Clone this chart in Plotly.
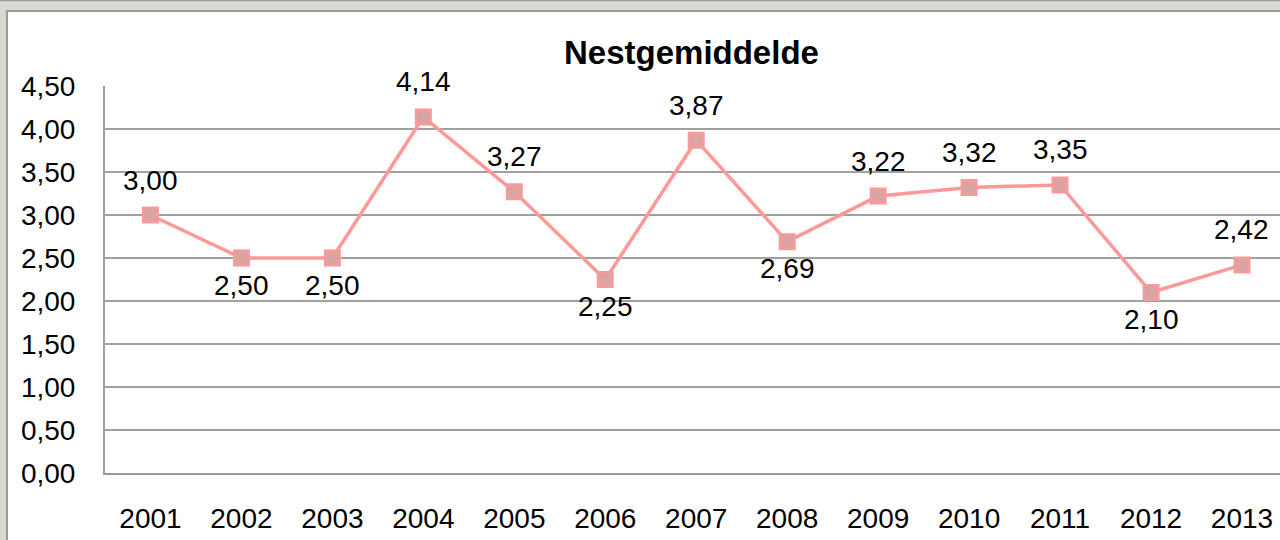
import plotly.graph_objects as go

years = ["2001", "2002", "2003", "2004", "2005", "2006", "2007",
         "2008", "2009", "2010", "2011", "2012", "2013"]
values = [3.00, 2.50, 2.50, 4.14, 3.27, 2.25, 3.87, 2.69, 3.22, 3.32, 3.35, 2.10, 2.42]
label_above = [True, False, False, True, True, False, True, False, True, True, True, False, True]
y_ticks = [0, 0.5, 1.0, 1.5, 2.0, 2.5, 3.0, 3.5, 4.0, 4.5]
title_text = "Nestgemiddelde"

def fmt(v):
    return f"{v:.2f}".replace(".", ",")

FONT = "Liberation Sans, Arial, sans-serif"
FS = 28
W, H = 1280, 540
L, R, T, B = 105, 0, 86, 67
pw, ph = W - L - R, H - T - B

def px(x):
    return (x - L) / pw

def py(y):
    return (H - B - y) / ph

fig = go.Figure()
fig.add_trace(go.Scatter(
    x=list(range(len(years))), y=values, mode="lines+markers",
    line=dict(color="#FF9999", width=3.5),
    marker=dict(symbol="square", size=15, color="#DCA3A3",
                line=dict(color="#FF9999", width=2)),
    showlegend=False, hoverinfo="skip",
))

annotations = []
for i, (v, up) in enumerate(zip(values, label_above)):
    annotations.append(dict(
        x=i, y=v, xref="x", yref="y", text=fmt(v), showarrow=False,
        yshift=35 if up else -27, yanchor="middle", xanchor="center",
        font=dict(family=FONT, size=FS, color="#000000"),
    ))
annotations.append(dict(
    x=px(691), y=py(52), xref="paper", yref="paper", text=f"<b>{title_text}</b>",
    showarrow=False, xanchor="center", yanchor="middle",
    font=dict(family=FONT, size=33, color="#000000"),
))

shapes = [
    dict(type="rect", xref="paper", yref="paper", layer="below",
         x0=px(7), x1=px(1300), y0=py(560), y1=py(11),
         fillcolor="#FFFFFF", line=dict(color="#9A9A9A", width=2)),
    dict(type="line", xref="paper", yref="paper", layer="below",
         x0=px(0), x1=px(1290), y0=py(0.5), y1=py(0.5),
         line=dict(color="#9A9A9A", width=1.5)),
]

fig.update_layout(
    width=W, height=H,
    margin=dict(l=L, r=R, t=T, b=B, autoexpand=False),
    paper_bgcolor="#D6D8D2", plot_bgcolor="#FFFFFF",
    font=dict(family=FONT, size=FS, color="#000000"),
    annotations=annotations, shapes=shapes,
    xaxis=dict(
        tickmode="array", tickvals=list(range(len(years))), ticktext=years,
        range=[-0.5, 12.418], showgrid=False, zeroline=False,
        showline=True, linecolor="#999999", linewidth=1.5,
        ticks="", ticklabelstandoff=20, automargin=False,
        tickfont=dict(family=FONT, size=FS, color="#000000"),
    ),
    yaxis=dict(
        tickmode="array", tickvals=y_ticks, ticktext=[fmt(t) for t in y_ticks],
        range=[0, 4.5], showgrid=True, gridcolor="#A0A0A0", gridwidth=1.5,
        zeroline=False, showline=True, linecolor="#A0A0A0", linewidth=2,
        ticks="", ticklabelstandoff=22, automargin=False,
        tickfont=dict(family=FONT, size=FS, color="#000000"),
    ),
)

fig.write_html("out.html", config={"displayModeBar": False},
               post_script="document.body.style.margin='0';document.body.style.overflow='hidden';")
